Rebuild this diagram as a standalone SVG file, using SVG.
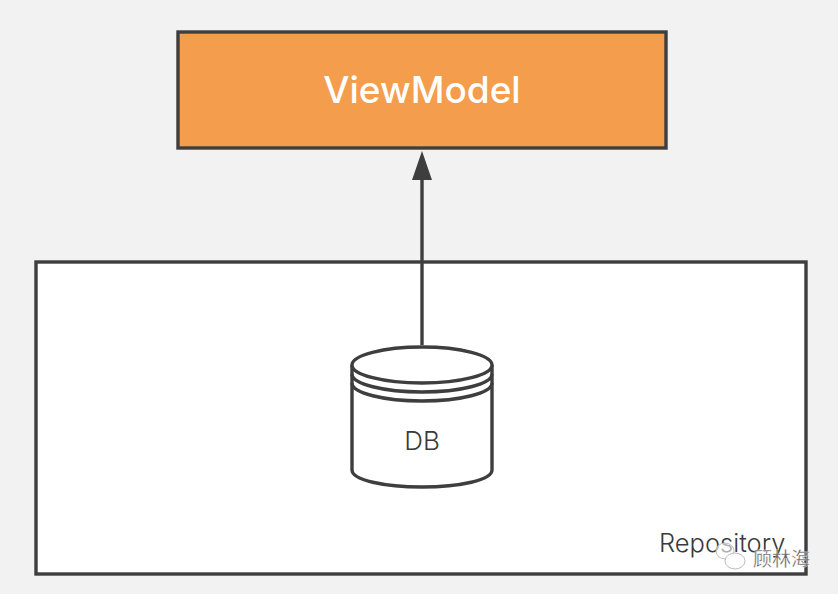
<svg xmlns="http://www.w3.org/2000/svg" width="838" height="594" viewBox="0 0 838 594">
<style>
.ln{fill:none;stroke:#3e3e3e;stroke-width:3.4}
.t{font-family:"Inter","Liberation Sans",sans-serif;fill:#3a3a3a;font-weight:300}
.wm{fill:#fff;stroke:#bdbdbd;stroke-width:1}
</style>
<rect width="838" height="594" fill="#f2f2f2"/>
<g id="repository">
<rect x="36" y="262" width="770" height="312" fill="#fff" stroke="#3e3e3e" stroke-width="3.4"/>
<text class="t" x="659" y="552" font-size="25.5">Repository</text>
</g>
<g id="viewmodel">
<rect x="178" y="32" width="488" height="116" fill="#f49d4d" stroke="#3e3e3e" stroke-width="3.4"/>
<text x="422" y="103" font-size="37" font-weight="500" text-anchor="middle" fill="#fff" font-family="Inter,'Liberation Sans',sans-serif">ViewModel</text>
</g>
<g id="connectors">
<line class="ln" x1="422" y1="345" x2="422" y2="178"/>
<polygon points="422,151 432,180 412,180" fill="#3e3e3e"/>
</g>
<g id="db">
<path class="ln" d="M352,365 V470 C352,480 384,487 422,487 C460,487 492,480 492,470 V365" style="fill:#fff"/>
<ellipse class="ln" cx="422" cy="365" rx="70" ry="18" style="fill:#fff"/>
<path class="ln" d="M352,374 C352,384 384,392 422,392 C460,392 492,384 492,374"/>
<path class="ln" d="M352,383 C352,393 384,401 422,401 C460,401 492,393 492,383"/>
<text class="t" x="422" y="450" font-size="26" text-anchor="middle">DB</text>
</g>
<g id="watermark">
<ellipse class="wm" cx="725" cy="551" rx="9" ry="8" fill-opacity="0.6"/>
<ellipse class="wm" cx="735" cy="561" rx="10" ry="8" fill-opacity="0.8"/>
<text x="753" y="566" font-size="19" fill="#5e5e5e" stroke="#fff" stroke-width="0.3" font-family="'Noto Sans CJK SC',sans-serif">顾林海</text>
</g>
</svg>
